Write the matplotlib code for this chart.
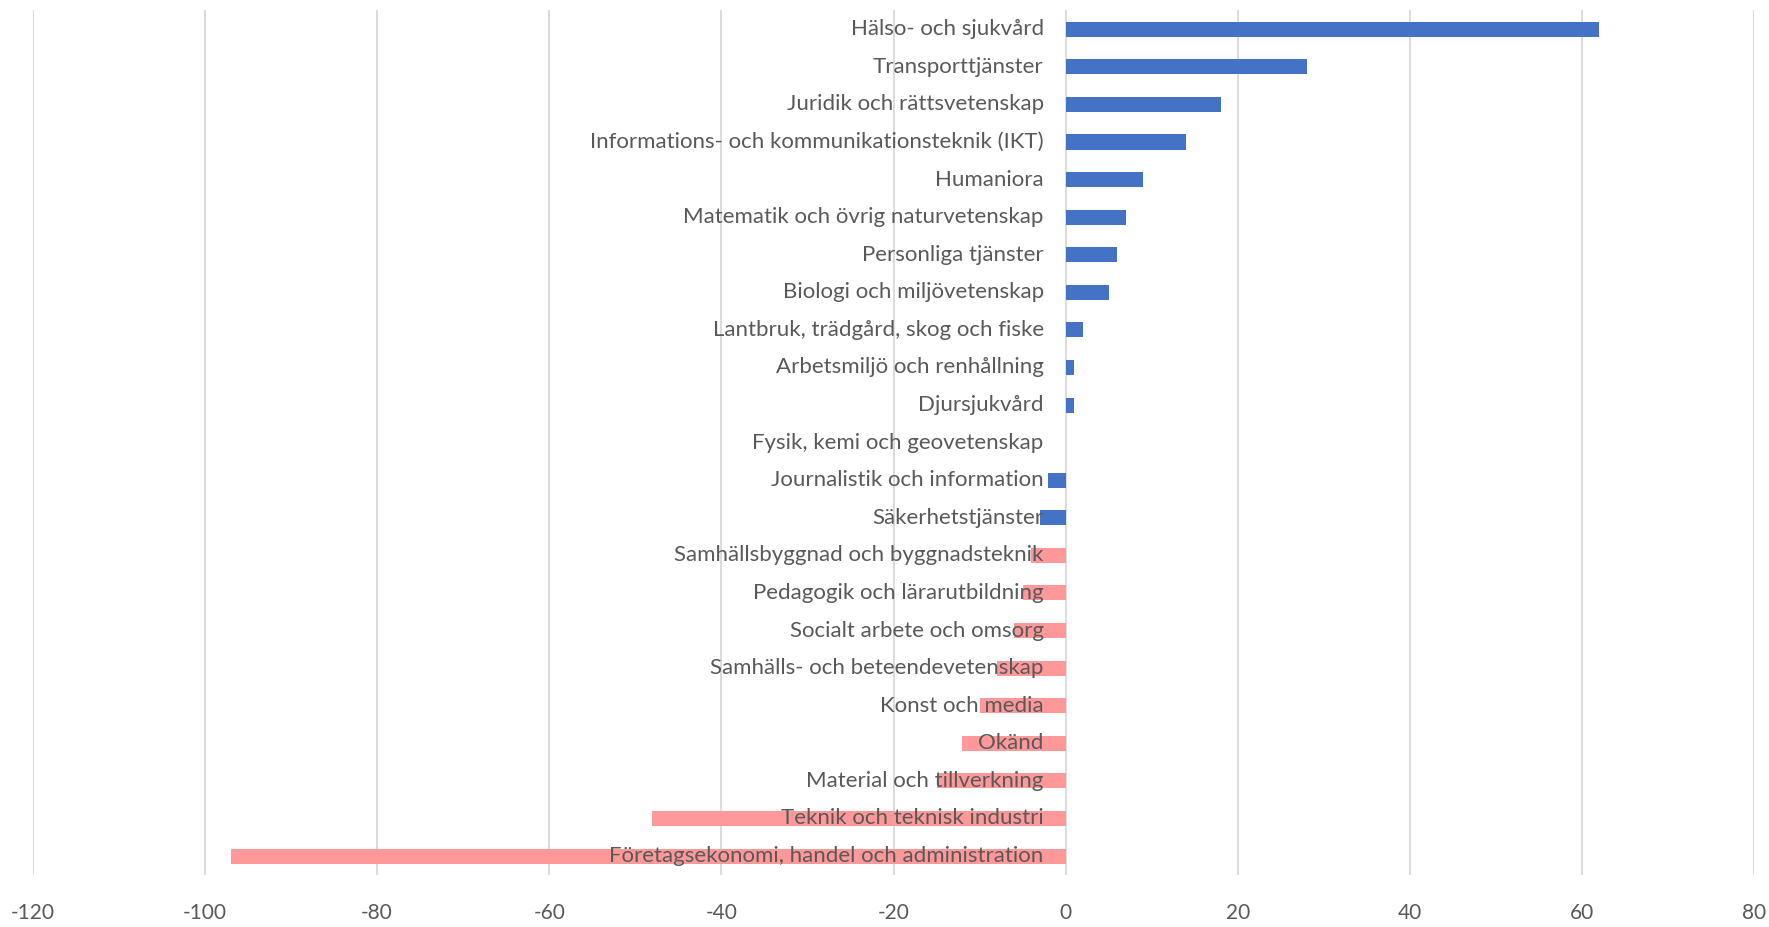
import matplotlib.pyplot as plt
from matplotlib.transforms import offset_copy

# Data (top to bottom as in the chart)
categories = [
    "Hälso- och sjukvård",
    "Transporttjänster",
    "Juridik och rättsvetenskap",
    "Informations- och kommunikationsteknik (IKT)",
    "Humaniora",
    "Matematik och övrig naturvetenskap",
    "Personliga tjänster",
    "Biologi och miljövetenskap",
    "Lantbruk, trädgård, skog och fiske",
    "Arbetsmiljö och renhållning",
    "Djursjukvård",
    "Fysik, kemi och geovetenskap",
    "Journalistik och information",
    "Säkerhetstjänster",
    "Samhällsbyggnad och byggnadsteknik",
    "Pedagogik och lärarutbildning",
    "Socialt arbete och omsorg",
    "Samhälls- och beteendevetenskap",
    "Konst och media",
    "Okänd",
    "Material och tillverkning",
    "Teknik och teknisk industri",
    "Företagsekonomi, handel och administration",
]
values = [62, 28, 18, 14, 9, 7, 6, 5, 2, 1, 1, 0, -2, -3,
          -4, -5, -6, -8, -10, -12, -15, -48, -97]
# first 14 categories in blue, the rest in pink
series_group = ["blue"] * 14 + ["pink"] * 9

BLUE = "#4472C4"
PINK = "#FF9999"
TEXT = "#595959"

plt.rcParams["font.family"] = ["Lato", "DejaVu Sans"]
plt.rcParams["axes.unicode_minus"] = False

fig = plt.figure(figsize=(17.69, 9.27), dpi=100)
ax = fig.add_axes([0.0185, 0.0563, 0.9732, 0.9324])

ypos = list(range(len(categories)))
colors = [BLUE if g == "blue" else PINK for g in series_group]
ax.barh(ypos, values, height=0.4, color=colors, zorder=2)

ax.set_ylim(len(categories) - 0.5, -0.5)
ax.set_xlim(-120, 80)
ax.set_xticks(range(-120, 81, 20))
ax.set_yticks([])
ax.grid(axis="x", color="#D9D9D9", linewidth=1.3, zorder=0)
ax.set_axisbelow(True)
for s in ax.spines.values():
    s.set_visible(False)
ax.tick_params(axis="x", length=0, pad=20, labelsize=15, labelcolor=TEXT)

# category labels next to the zero line
trans = offset_copy(ax.transData, fig=fig, x=-22, y=0, units="dots")
for y, lab in zip(ypos, categories):
    ax.text(0, y, lab, transform=trans, ha="right", va="center",
            fontsize=16, color=TEXT, zorder=3)

fig.savefig("out.png", dpi=100)
